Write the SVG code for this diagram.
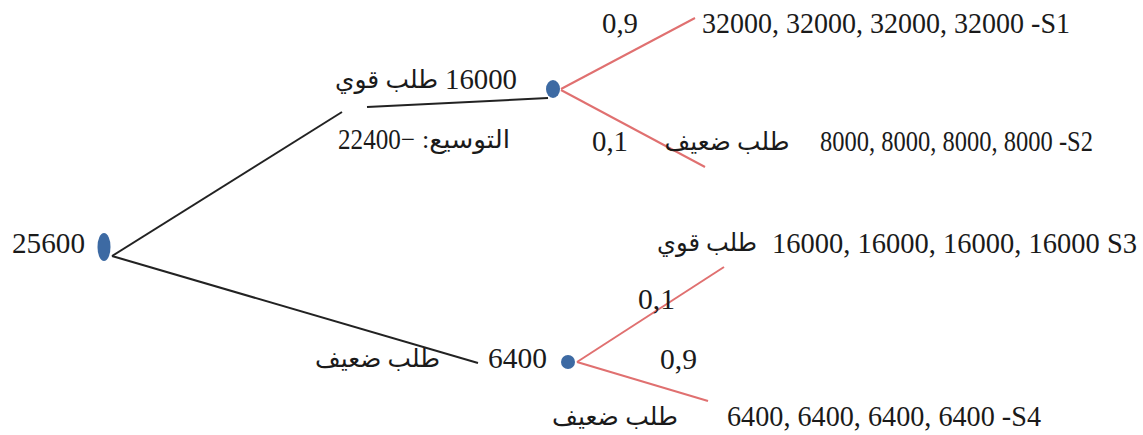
<svg xmlns="http://www.w3.org/2000/svg" width="1143" height="435" viewBox="0 0 1143 435">
<style>
text{font-family:"Liberation Serif","DejaVu Sans",serif;font-size:29px;fill:#1a1a1a;text-anchor:middle}
.ar{font-size:25px}
.k{stroke:#222;stroke-width:2;fill:none}
.r{stroke:#e07070;stroke-width:2;fill:none}
.n{fill:#3d6aa3}
</style>
<rect width="1143" height="435" fill="#fff"/>
<g id="connectors">
<line class="k" x1="112" y1="256" x2="342" y2="112"/>
<line class="k" x1="367" y1="107" x2="548" y2="98"/>
<line class="k" x1="112" y1="256" x2="478" y2="363"/>
<line class="r" x1="561" y1="89" x2="695" y2="18"/>
<line class="r" x1="561" y1="90" x2="705" y2="167"/>
<line class="r" x1="577" y1="362" x2="724" y2="267"/>
<line class="r" x1="577" y1="362" x2="708" y2="401"/>
</g>
<g id="root">
<ellipse class="n" cx="104" cy="247" rx="6.5" ry="14"/>
<text x="48.5" y="253" textLength="73" lengthAdjust="spacingAndGlyphs">25600</text>
</g>
<g id="expand">
<ellipse class="n" cx="553" cy="89" rx="7" ry="9"/>
<text class="ar" x="386.5" y="88" textLength="103" lengthAdjust="spacingAndGlyphs">طلب قوي</text>
<text x="481" y="89" textLength="72" lengthAdjust="spacingAndGlyphs">16000</text>
<text x="376.5" y="149" textLength="77" lengthAdjust="spacingAndGlyphs">22400−</text>
<text class="ar" x="466" y="148" direction="rtl" textLength="88" lengthAdjust="spacingAndGlyphs">التوسيع:</text>
</g>
<g id="s1">
<text x="620" y="33" textLength="36" lengthAdjust="spacingAndGlyphs">0,9</text>
<text x="886" y="33" textLength="368" lengthAdjust="spacingAndGlyphs">32000, 32000, 32000, 32000 -S1</text>
</g>
<g id="s2">
<text x="610" y="151" textLength="36" lengthAdjust="spacingAndGlyphs">0,1</text>
<text class="ar" x="727" y="150" textLength="125" lengthAdjust="spacingAndGlyphs">طلب ضعيف</text>
<text x="956.5" y="151" textLength="273" lengthAdjust="spacingAndGlyphs">8000, 8000, 8000, 8000 -S2</text>
</g>
<g id="weak">
<ellipse class="n" cx="568" cy="362" rx="7" ry="7"/>
<text class="ar" x="377.5" y="367" textLength="125" lengthAdjust="spacingAndGlyphs">طلب ضعيف</text>
<text x="517.5" y="368" textLength="59" lengthAdjust="spacingAndGlyphs">6400</text>
</g>
<g id="s3">
<text class="ar" x="707" y="251" textLength="100" lengthAdjust="spacingAndGlyphs">طلب قوي</text>
<text x="954.5" y="253" textLength="365" lengthAdjust="spacingAndGlyphs">16000, 16000, 16000, 16000 S3</text>
<text x="656.5" y="309" textLength="37" lengthAdjust="spacingAndGlyphs">0,1</text>
</g>
<g id="s4">
<text x="678.5" y="369" textLength="37" lengthAdjust="spacingAndGlyphs">0,9</text>
<text class="ar" x="615" y="425" textLength="126" lengthAdjust="spacingAndGlyphs">طلب ضعيف</text>
<text x="884" y="426" textLength="314" lengthAdjust="spacingAndGlyphs">6400, 6400, 6400, 6400 -S4</text>
</g>
</svg>
